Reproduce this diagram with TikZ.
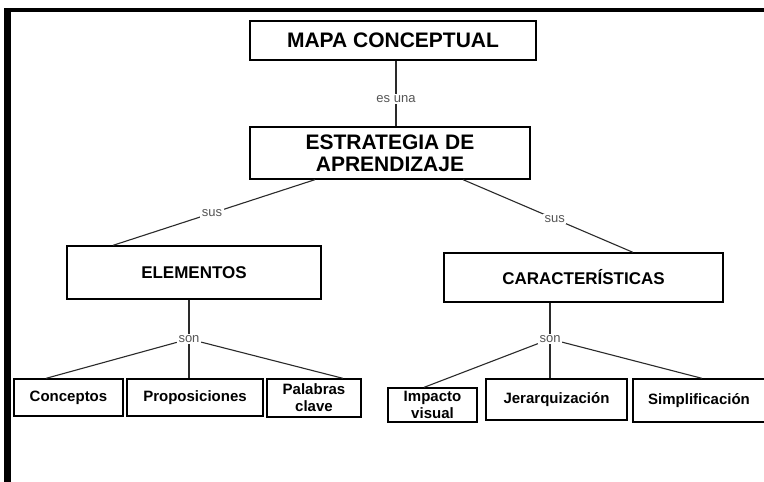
\documentclass[tikz,border=0pt]{standalone}
\usepackage{fontspec}
\setmainfont{Liberation Sans}
\usetikzlibrary{calc}
\definecolor{lblgray}{HTML}{555555}
\definecolor{linegray}{HTML}{2A2A2A}
\tikzset{
  box/.style={draw=black, line width=1.3pt, rectangle, inner sep=0pt, align=center, font=\bfseries},
  conn/.style={draw=linegray, line width=1.1pt},
  lbl/.style={fill=white, inner sep=1.5pt, text=lblgray, font=\fontsize{13}{14}\selectfont},
}
\begin{document}
\begin{tikzpicture}[x=1pt,y=-1pt]
\useasboundingbox (0,0) rectangle (764,482);
\clip (0,0) rectangle (764,482);
\fill[white] (0,0) rectangle (764,482);
% frame
\fill[black] (4,8) rectangle (764,12);
\fill[black] (4,8) rectangle (11,482);

% boxes
\node[box, minimum width=286pt, minimum height=39pt, font=\bfseries\fontsize{21}{22}\selectfont] (mapa) at (393,40.5) {MAPA CONCEPTUAL};
\node[box, minimum width=280pt, minimum height=52pt, font=\bfseries\fontsize{21}{22}\selectfont] (estr) at (390,153) {ESTRATEGIA DE\\APRENDIZAJE};
\node[box, minimum width=254pt, minimum height=53pt, font=\bfseries\fontsize{17}{18}\selectfont] (elem) at (194,272.5) {ELEMENTOS};
\node[box, minimum width=279pt, minimum height=49pt, font=\bfseries\fontsize{17}{18}\selectfont] (cara) at (583.5,277.5) {CARACTERÍSTICAS};

\node[box, minimum width=109pt, minimum height=37pt, font=\bfseries\fontsize{15}{17}\selectfont] (conc) at (68.5,397.5) {Conceptos};
\node[box, minimum width=136pt, minimum height=37pt, font=\bfseries\fontsize{15}{17}\selectfont] (prop) at (195,397.5) {Proposiciones};
\node[box, minimum width=94pt, minimum height=38pt, font=\bfseries\fontsize{15}{17}\selectfont] (pala) at (314,398) {Palabras\\clave};

\node[box, minimum width=89pt, minimum height=34pt, font=\bfseries\fontsize{15}{17}\selectfont] (impa) at (432.5,405) {Impacto\\visual};
\node[box, minimum width=141pt, minimum height=41pt, font=\bfseries\fontsize{15}{17}\selectfont] (jera) at (556.5,399.5) {Jerarquización};
\node[box, minimum width=132pt, minimum height=43pt, font=\bfseries\fontsize{15}{17}\selectfont] (simp) at (699,400.5) {Simplificación};

% labels and connectors
\node[lbl] (esuna) at (396,99) {es una};
\begin{scope}[on background layer/.style={}]
\end{scope}
\draw[conn] ([xshift=3pt]mapa.south) -- (esuna);
\draw[conn] (esuna) -- ([xshift=6pt]estr.north);

\draw[conn] ([xshift=-75pt]estr.south) -- node[lbl, pos=0.51] {sus} ([xshift=-81pt]elem.north);
\draw[conn] ([xshift=73pt]estr.south) -- node[lbl, pos=0.54] {sus} ([xshift=49.5pt]cara.north);

\node[lbl] (sonl) at (189,339) {son};
\draw[conn] ([xshift=-5pt]elem.south) -- (sonl);
\draw[conn] (sonl) -- ([xshift=-22.5pt]conc.north);
\draw[conn] (sonl) -- ([xshift=-6pt]prop.north);
\draw[conn] (sonl) -- ([xshift=29pt]pala.north);

\node[lbl] (sonr) at (550,339) {son};
\draw[conn] ([xshift=-33.5pt]cara.south) -- (sonr);
\draw[conn] (sonr) -- ([xshift=-8.5pt]impa.north);
\draw[conn] (sonr) -- ([xshift=-6.5pt]jera.north);
\draw[conn] (sonr) -- ([xshift=3pt]simp.north);
\end{tikzpicture}
\end{document}
